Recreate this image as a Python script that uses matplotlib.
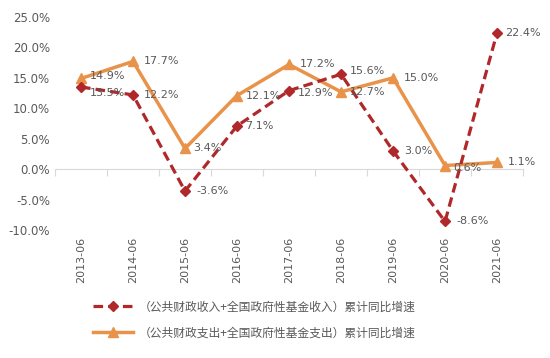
import numpy as np
import matplotlib.pyplot as plt
from matplotlib.ticker import FuncFormatter

plt.rcParams['font.family'] = ['Noto Sans CJK SC', 'DejaVu Sans']

periods = ['2013-06', '2014-06', '2015-06', '2016-06', '2017-06',
           '2018-06', '2019-06', '2020-06', '2021-06']
revenue = [13.5, 12.2, -3.6, 7.1, 12.9, 15.6, 3.0, -8.6, 22.4]
spending = [14.9, 17.7, 3.4, 12.1, 17.2, 12.7, 15.0, 0.6, 1.1]
rev_name = '（公共财政收入+全国政府性基金收入）累计同比增速'
spend_name = '（公共财政支出+全国政府性基金支出）累计同比增速'

red = '#B0282A'
orange = '#E8924A'
grey = '#595959'

fig = plt.figure(figsize=(5.5, 3.58), dpi=100)
ax = fig.add_axes([0.1, 0.3575, 0.851, 0.595])
x = np.arange(len(periods))

l1, = ax.plot(x, revenue, color=red, lw=2.3, ls=(0, (3, 1.6)), marker='D',
              ms=5, label=rev_name, zorder=3)
l2, = ax.plot(x, spending, color=orange, lw=2.5, marker='^', ms=6.5,
              label=spend_name, zorder=2)

# label offsets in points (dx, dy)
rev_off = [(6, -4), (8, 0), (8, 0), (6, 0), (6, -2), (6, 2), (8, 0), (8, 0), (6, 0)]
sp_off = [(6, 2), (8, 0), (6, 0), (6, 0), (8, 0), (6, 0), (8, 0), (6, -2), (8, 0)]
for i in range(len(periods)):
    ax.annotate(f'{revenue[i]:.1f}%', (x[i], revenue[i]), xytext=rev_off[i],
                textcoords='offset points', fontsize=8, color=grey,
                va='center', family='DejaVu Sans')
    ax.annotate(f'{spending[i]:.1f}%', (x[i], spending[i]), xytext=sp_off[i],
                textcoords='offset points', fontsize=8, color=grey,
                va='center', family='DejaVu Sans')

ax.set_ylim(-10, 25)
ax.set_yticks(np.arange(-10, 26, 5))
ax.yaxis.set_major_formatter(FuncFormatter(lambda v, p: f'{v:.1f}%'))
ax.set_xlim(-0.5, len(periods) - 0.5)
ax.set_xticks(x)
ax.set_xticklabels(periods, rotation=90)

for s in ['top', 'right', 'left', 'bottom']:
    ax.spines[s].set_visible(False)
ax.tick_params(axis='x', length=0, pad=5, labelsize=8, labelcolor=grey)
ax.tick_params(axis='y', length=0, labelsize=8.5, labelcolor=grey)
for t in ax.get_xticklabels() + ax.get_yticklabels():
    t.set_family('DejaVu Sans')

# zero line with category boundary ticks
zero = ax.secondary_xaxis(10 / 35)
zero.spines['bottom'].set_color('#D9D9D9')
zero.set_xticks(np.arange(-0.5, len(periods)))
zero.tick_params(length=5, color='#D9D9D9', labelbottom=False)

fig.legend(handles=[l1, l2], loc='upper left', bbox_to_anchor=(0.15, 0.19),
           frameon=False, fontsize=8.5, handlelength=3.4, handletextpad=0.5,
           labelspacing=1.1, labelcolor=grey)

fig.savefig('out.png', dpi=100)
